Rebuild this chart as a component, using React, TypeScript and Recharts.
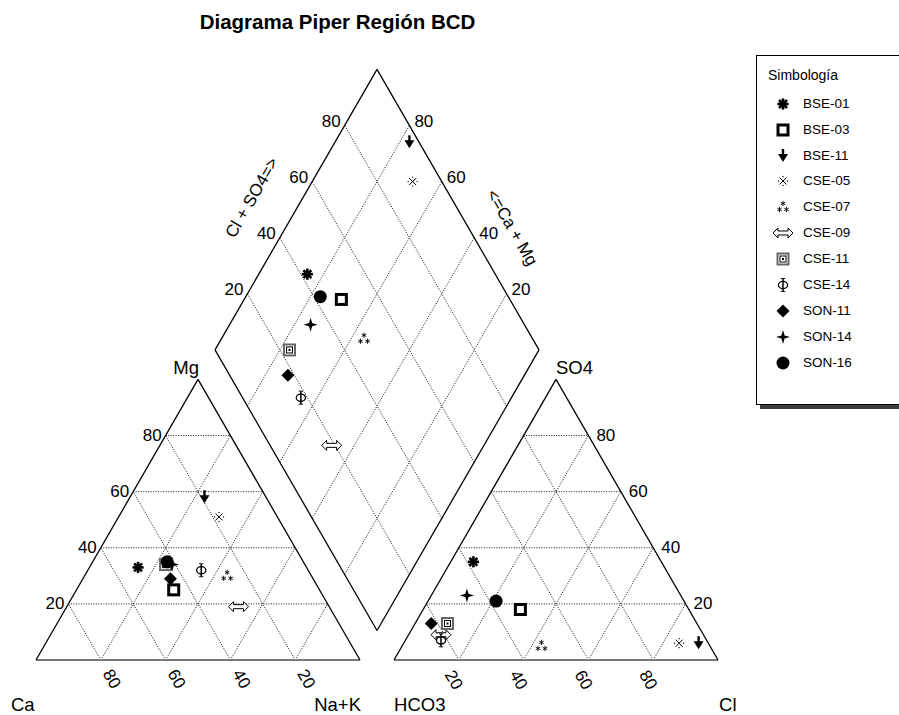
import React from "react";
import { ReferenceLine, Scatter, ScatterChart, XAxis, YAxis } from "recharts";

// samples and their legend symbols
const samples = ["BSE-01", "BSE-03", "BSE-11", "CSE-05", "CSE-07", "CSE-09", "CSE-11", "CSE-14", "SON-11", "SON-14", "SON-16"];
const symbols = ["asterisk", "square", "arrow", "xdots", "stars", "dblarrow", "nested", "phi", "diamond", "star4", "circle"];

// cations, % meq/l
const ca = [52, 45, 19, 18, 26, 28, 43, 33, 44, 41, 42];
const mg = [33, 25, 58, 51, 30, 19, 34, 32, 29, 34, 35];
const nak = [15, 30, 23, 31, 44, 53, 23, 35, 27, 25, 23];

// anions, % meq/l
const hco3 = [58, 52, 3, 9, 52, 81, 77, 82, 82, 66, 58];
const so4 = [35, 18, 6, 6, 5, 9, 13, 7, 13, 23, 21];
const cl = [7, 30, 91, 85, 43, 10, 10, 11, 5, 11, 21];

const ticks = [20, 40, 60, 80];

// geometry (triangle side = 100 units)
const W = 899;
const HT = 715;
const K = 3.24; // px per unit
const GAP = 10.5;
const XMAX = 210.5;
const YMAX = 183;
const H = Math.sqrt(3) / 2;
const OX = 100 + GAP;
const BX = 100 + GAP / 2;
const BY = GAP * H;

const FONT = "'Liberation Sans', Arial, Helvetica, sans-serif";

type P = { x: number; y: number };

const cat = (c: number, m: number, n: number): P => {
  const s = c + m + n;
  return { x: ((n + m / 2) * 100) / s, y: ((m * H) * 100) / s };
};
const ani = (h: number, s4: number, c: number): P => {
  const s = h + s4 + c;
  return { x: OX + ((c + s4 / 2) * 100) / s, y: ((s4 * H) * 100) / s };
};
// u = Ca+Mg, v = SO4+Cl
const dia = (u: number, v: number): P => ({ x: BX + (v - u) / 2, y: BY + (u + v) * H });

const seriesData = samples.map((name, i) => [
  { ...cat(ca[i], mg[i], nak[i]), name },
  { ...ani(hco3[i], so4[i], cl[i]), name },
  { ...dia(ca[i] + mg[i], so4[i] + cl[i]), name },
]);

// outline and grid segments
type Seg = { a: P; b: P; kind: "edge" | "base" | "grid" };
const segs: Seg[] = [];
[0, OX].forEach((ox) => {
  const A = { x: ox, y: 0 };
  const B = { x: ox + 100, y: 0 };
  const C = { x: ox + 50, y: 100 * H };
  ticks.forEach((t) => {
    segs.push({ a: { x: ox + t / 2, y: t * H }, b: { x: ox + 100 - t / 2, y: t * H }, kind: "grid" });
    segs.push({ a: { x: ox + t, y: 0 }, b: { x: ox + t / 2, y: t * H }, kind: "grid" });
    segs.push({ a: { x: ox + t, y: 0 }, b: { x: ox + t + (100 - t) / 2, y: (100 - t) * H }, kind: "grid" });
  });
  segs.push({ a: A, b: B, kind: "base" });
  segs.push({ a: A, b: C, kind: "edge" });
  segs.push({ a: B, b: C, kind: "edge" });
});
ticks.forEach((t) => {
  segs.push({ a: dia(t, 0), b: dia(t, 100), kind: "grid" });
  segs.push({ a: dia(0, t), b: dia(100, t), kind: "grid" });
});
segs.push({ a: dia(0, 0), b: dia(100, 0), kind: "edge" });
segs.push({ a: dia(100, 0), b: dia(100, 100), kind: "edge" });
segs.push({ a: dia(100, 100), b: dia(0, 100), kind: "edge" });
segs.push({ a: dia(0, 100), b: dia(0, 0), kind: "edge" });

// text labels placed through the scales
type Lab = P & { text: string; dx: number; dy: number; rot: number; anchor: string; size: number };
const labels: Lab[] = [];
const lab = (p: P, text: string, dx: number, dy: number, anchor: string, size = 17, rot = 0) =>
  labels.push({ ...p, text, dx, dy, anchor, size, rot });

ticks.forEach((t) => {
  lab({ x: t / 2, y: t * H }, String(t), -4, 0, "end");
  lab({ x: 100 - t, y: 0 }, String(t), 11, 19, "middle", 17, 60);
  lab({ x: OX + 100 - t / 2, y: t * H }, String(t), 8, 0, "start");
  lab({ x: OX + t, y: 0 }, String(t), -5, 20, "middle", 17, 60);
  lab(dia(100, t), String(t), -4, -4, "end");
  lab(dia(t, 100), String(t), 5, -4, "start");
});
lab({ x: 0, y: 0 }, "Ca", -25, 44, "start", 18.5);
lab({ x: 100, y: 0 }, "Na+K", 1, 44, "end", 18.5);
lab({ x: 50, y: 100 * H }, "Mg", 1, -12, "end", 18.5);
lab({ x: OX, y: 0 }, "HCO3", 0, 44, "start", 18.5);
lab({ x: OX + 100, y: 0 }, "Cl", 1, 44, "start", 18.5);
lab({ x: OX + 50, y: 100 * H }, "SO4", 0, -12, "start", 18.5);
lab(dia(100, 50), "Cl + SO4=>", -44, -12, "middle", 17, -60);
lab(dia(50, 100), "<=Ca + Mg", 54, 18, "middle", 17, 60);

function Marker({ kind, cx, cy }: { kind: string; cx: number; cy: number }) {
  switch (kind) {
    case "asterisk": {
      const r = 5.6;
      return (
        <g stroke="#000" strokeWidth={2.6}>
          {[0, 45, 90, 135].map((a) => {
            const dx = r * Math.cos((a * Math.PI) / 180);
            const dy = r * Math.sin((a * Math.PI) / 180);
            return <line key={a} x1={cx - dx} y1={cy - dy} x2={cx + dx} y2={cy + dy} />;
          })}
        </g>
      );
    }
    case "square":
      return <rect x={cx - 5} y={cy - 5} width={10} height={10} fill="#fff" stroke="#000" strokeWidth={3} />;
    case "arrow":
      return (
        <g fill="#000">
          <rect x={cx - 1.2} y={cy - 7} width={2.4} height={6} />
          <path d={`M${cx - 5},${cy - 2} L${cx + 5},${cy - 2} L${cx},${cy + 6} Z`} />
        </g>
      );
    case "xdots":
      return (
        <g stroke="#000" strokeWidth={1} fill="#000">
          <line x1={cx - 3.5} y1={cy - 3.5} x2={cx + 3.5} y2={cy + 3.5} />
          <line x1={cx - 3.5} y1={cy + 3.5} x2={cx + 3.5} y2={cy - 3.5} />
          <circle cx={cx} cy={cy - 4.5} r={0.7} stroke="none" />
          <circle cx={cx} cy={cy + 4.5} r={0.7} stroke="none" />
          <circle cx={cx - 4.5} cy={cy} r={0.7} stroke="none" />
          <circle cx={cx + 4.5} cy={cy} r={0.7} stroke="none" />
        </g>
      );
    case "stars": {
      const small = (x: number, y: number, k: string) => (
        <g key={k} stroke="#000" strokeWidth={0.9}>
          {[90, 30, 150].map((a) => {
            const dx = 2.6 * Math.cos((a * Math.PI) / 180);
            const dy = 2.6 * Math.sin((a * Math.PI) / 180);
            return <line key={a} x1={x - dx} y1={y - dy} x2={x + dx} y2={y + dy} />;
          })}
        </g>
      );
      return <g>{[small(cx, cy - 3.5, "a"), small(cx - 3.5, cy + 2.5, "b"), small(cx + 3.5, cy + 2.5, "c")]}</g>;
    }
    case "dblarrow":
      return (
        <path
          d={`M${cx - 10},${cy} L${cx - 5},${cy - 5} L${cx - 5},${cy - 2} L${cx + 5},${cy - 2} L${cx + 5},${cy - 5} L${cx + 10},${cy} L${cx + 5},${cy + 5} L${cx + 5},${cy + 2} L${cx - 5},${cy + 2} L${cx - 5},${cy + 5} Z`}
          fill="#fff"
          stroke="#000"
          strokeWidth={1}
        />
      );
    case "nested":
      return (
        <g>
          <rect x={cx - 5.5} y={cy - 5.5} width={11} height={11} fill="#fff" stroke="#666" strokeWidth={2} />
          <rect x={cx - 3} y={cy - 3} width={6} height={6} fill="#fff" stroke="#000" strokeWidth={1} />
          <rect x={cx - 1} y={cy - 1} width={2} height={2} fill="#000" />
        </g>
      );
    case "phi":
      // serif capital phi
      return (
        <g stroke="#000" fill="none">
          <ellipse cx={cx} cy={cy} rx={4.6} ry={3.6} strokeWidth={1.3} />
          <line x1={cx} y1={cy - 6.5} x2={cx} y2={cy + 6.5} strokeWidth={1.5} />
          <line x1={cx - 2.2} y1={cy - 6.5} x2={cx + 2.2} y2={cy - 6.5} strokeWidth={0.9} />
          <line x1={cx - 2.2} y1={cy + 6.5} x2={cx + 2.2} y2={cy + 6.5} strokeWidth={0.9} />
        </g>
      );
    case "diamond":
      return <path d={`M${cx},${cy - 6.5} L${cx + 6.5},${cy} L${cx},${cy + 6.5} L${cx - 6.5},${cy} Z`} fill="#000" />;
    case "star4":
      return (
        <path
          d={`M${cx},${cy - 7} L${cx + 1.6},${cy - 1.6} L${cx + 7},${cy} L${cx + 1.6},${cy + 1.6} L${cx},${cy + 7} L${cx - 1.6},${cy + 1.6} L${cx - 7},${cy} L${cx - 1.6},${cy - 1.6} Z`}
          fill="#000"
        />
      );
    default:
      return <circle cx={cx} cy={cy} r={6.5} fill="#000" />;
  }
}

const LabelShape = (p: any) => {
  const d = p.payload as Lab;
  const x = p.cx + d.dx;
  const y = p.cy + d.dy;
  return (
    <text
      x={x}
      y={y}
      textAnchor={d.anchor as any}
      dominantBaseline="central"
      fontSize={d.size}
      fontFamily={FONT}
      fill="#000"
      transform={d.rot ? `rotate(${d.rot} ${x} ${y})` : undefined}
    >
      {d.text}
    </text>
  );
};

export default function App() {
  const margin = { left: 36, right: W - 36 - XMAX * K, top: HT - 55 - YMAX * K, bottom: 55 };
  return (
    <div style={{ position: "absolute", left: 0, top: 0, width: W, height: HT, overflow: "hidden", background: "#fff" }}>
      <div
        style={{ position: "absolute", left: 0, top: 10, width: 675, textAlign: "center", fontFamily: FONT, fontSize: 20.5, fontWeight: "bold", lineHeight: "24px" }}
      >
        Diagrama Piper Región BCD
      </div>
      <ScatterChart width={W} height={HT} margin={margin}>
        <XAxis type="number" dataKey="x" domain={[0, XMAX]} hide />
        <YAxis type="number" dataKey="y" domain={[0, YMAX]} hide />
        {segs.map((s, i) => (
          <ReferenceLine
            key={i}
            segment={[s.a, s.b]}
            ifOverflow="visible"
            stroke={s.kind === "base" ? "#777" : s.kind === "grid" ? "#111" : "#000"}
            strokeWidth={s.kind === "base" ? 2 : s.kind === "edge" ? 1.3 : 1}
            strokeDasharray={s.kind === "grid" ? "1 1.5" : undefined}
          />
        ))}
        <Scatter data={labels} isAnimationActive={false} shape={LabelShape} legendType="none" />
        {samples.map((name, i) => (
          <Scatter
            key={name}
            name={name}
            data={seriesData[i]}
            isAnimationActive={false}
            shape={(p: any) => <Marker kind={symbols[i]} cx={p.cx} cy={p.cy} />}
          />
        ))}
      </ScatterChart>
      <div
        style={{
          position: "absolute",
          left: 756,
          top: 55,
          width: 160,
          height: 350,
          boxSizing: "border-box",
          border: "1px solid #000",
          boxShadow: "4px 4px 0 #404040",
          background: "#fff",
          fontFamily: FONT,
        }}
      >
        <div style={{ position: "absolute", left: 11, top: 11, fontSize: 14, lineHeight: "16px" }}>Simbología</div>
        {samples.map((name, i) => {
          const cy = 47.7 + i * 25.9;
          return (
            <React.Fragment key={name}>
              <svg style={{ position: "absolute", left: 15, top: cy - 11 }} width={22} height={22}>
                <Marker kind={symbols[i]} cx={11} cy={11} />
              </svg>
              <div style={{ position: "absolute", left: 46, top: cy - 8, fontSize: 13.5, lineHeight: "16px" }}>{name}</div>
            </React.Fragment>
          );
        })}
      </div>
    </div>
  );
}
